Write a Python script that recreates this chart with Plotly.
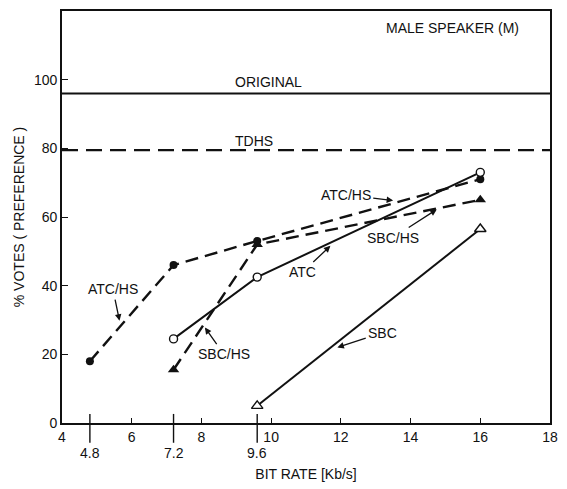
import plotly.graph_objects as go

# ---- data ----
atc_hs_x = [4.8, 7.2, 9.6, 16]
atc_hs_y = [18, 46, 53, 71]
sbc_hs_x = [7.2, 9.6, 16]
sbc_hs_y = [15.5, 52, 65]
atc_x = [7.2, 9.6, 16]
atc_y = [24.5, 42.5, 73]
sbc_x = [9.6, 16]
sbc_y = [5, 56.5]
original_level = 96
tdhs_level = 79.5
x_range = [4, 18]
y_range = [0, 120]
x_ticks = [4, 6, 8, 10, 12, 14, 16, 18]
x_rate_ticks = [4.8, 7.2, 9.6]
y_ticks = [0, 20, 40, 60, 80, 100]

FONT = "Liberation Sans"
BLACK = "#111111"
DASH = "13px,7px"

fig = go.Figure()

# reference lines
fig.add_trace(go.Scatter(x=x_range, y=[original_level, original_level], mode="lines",
                         line=dict(color=BLACK, width=2), showlegend=False))
fig.add_trace(go.Scatter(x=x_range, y=[tdhs_level, tdhs_level], mode="lines",
                         line=dict(color=BLACK, width=2.2, dash="16px,8px"), showlegend=False))

# series
fig.add_trace(go.Scatter(x=atc_hs_x, y=atc_hs_y, mode="lines+markers",
                         line=dict(color=BLACK, width=2.4, dash=DASH),
                         marker=dict(symbol="circle", size=8, color=BLACK), showlegend=False))
fig.add_trace(go.Scatter(x=sbc_hs_x, y=sbc_hs_y, mode="lines+markers",
                         line=dict(color=BLACK, width=2.4, dash=DASH),
                         marker=dict(symbol="triangle-up", size=10, color=BLACK), showlegend=False))
fig.add_trace(go.Scatter(x=atc_x, y=atc_y, mode="lines+markers",
                         line=dict(color=BLACK, width=2),
                         marker=dict(symbol="circle", size=8, color="white",
                                     line=dict(width=1.4, color=BLACK)),
                         showlegend=False))
fig.add_trace(go.Scatter(x=sbc_x, y=sbc_y, mode="lines+markers",
                         line=dict(color=BLACK, width=2),
                         marker=dict(symbol="triangle-up", size=10, color="white",
                                     line=dict(width=1.4, color=BLACK)),
                         showlegend=False))

txt = dict(family=FONT, size=14, color=BLACK)
layout_annots = [
    dict(x=15.2, y=115, xref="x", yref="y", text="MALE SPEAKER (M)", showarrow=False, font=txt),
    dict(x=9.92, y=99.4, xref="x", yref="y", text="ORIGINAL", showarrow=False, font=txt),
    dict(x=9.52, y=82, xref="x", yref="y", text="TDHS", showarrow=False, font=txt),
]
# labels with arrows: (label, label_x, label_y, target_x, target_y)
arrow_labels = [
    ("ATC/HS", 5.46, 39, 5.65, 29.8),
    ("ATC/HS", 12.14, 66.5, 13.5, 64.8),
    ("SBC/HS", 13.5, 54, 14.75, 62.2),
    ("ATC", 10.9, 43.9, 11.7, 51.6),
    ("SBC", 13.2, 26.3, 11.9, 22.0),
    ("SBC/HS", 8.65, 20, 8.1, 27.8),
]
for t, lx, ly, tx, ty in arrow_labels:
    layout_annots.append(dict(x=tx, y=ty, xref="x", yref="y", ax=lx, ay=ly,
                              axref="x", ayref="y", text=t, font=txt, showarrow=True,
                              arrowhead=2, arrowsize=1, arrowwidth=1.3, arrowcolor=BLACK,
                              standoff=0, startstandoff=1))
# secondary rate tick labels below the axis
for v in x_rate_ticks:
    layout_annots.append(dict(x=v, y=-0.073, xref="x", yref="paper", text=str(v),
                              showarrow=False, font=txt, yanchor="middle"))

shapes = [dict(type="line", xref="x", yref="paper", x0=v, x1=v, y0=-0.048, y1=0.022,
               line=dict(color=BLACK, width=1.4)) for v in x_rate_ticks]

fig.update_layout(
    width=567, height=489,
    margin=dict(l=62, r=9, t=11, b=62),
    paper_bgcolor="white", plot_bgcolor="white",
    font=dict(family=FONT, size=14, color=BLACK),
    annotations=layout_annots,
    shapes=shapes,
    xaxis=dict(range=x_range, tickvals=x_ticks,
               ticks="inside", ticklen=5, tickwidth=1.3, tickcolor=BLACK,
               showline=True, linecolor=BLACK, linewidth=1.6, mirror=True,
               showgrid=False, zeroline=False,
               tickfont=dict(family=FONT, size=14, color=BLACK),
               title=dict(text="BIT RATE [Kb/s]", font=dict(family=FONT, size=14, color=BLACK), standoff=26)),
    yaxis=dict(range=y_range, tickvals=y_ticks,
               ticks="inside", ticklen=6, tickwidth=1.3, tickcolor=BLACK,
               showline=True, linecolor=BLACK, linewidth=1.6, mirror=True,
               showgrid=False, zeroline=False,
               tickfont=dict(family=FONT, size=14, color=BLACK),
               title=dict(text="% VOTES ( PREFERENCE )", font=dict(family=FONT, size=14, color=BLACK), standoff=6)),
)

fig.write_html("out.html")
